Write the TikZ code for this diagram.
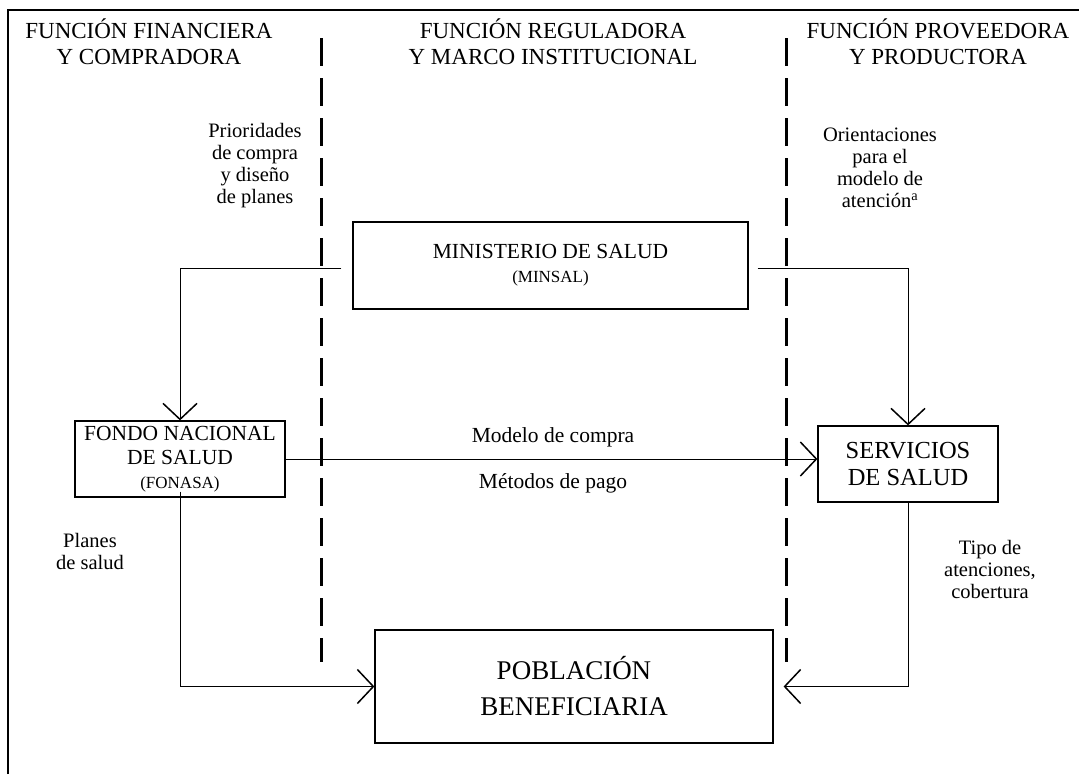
\documentclass[tikz,border=0pt]{standalone}
\usepackage{fontspec}
\setmainfont{Liberation Serif}
\usetikzlibrary{arrows.meta,calc}
\begin{document}
\begin{tikzpicture}[x=1pt,y=-1pt,
  hdr/.style={align=center,font=\fontsize{23}{26}\selectfont,inner sep=0pt},
  lbl/.style={align=center,font=\fontsize{20.5}{22}\selectfont,inner sep=0pt},
  box/.style={draw,line width=1.2pt,align=center,inner sep=0pt,font=\fontsize{21.5}{24}\selectfont},
  conn/.style={line width=1pt},
  tip/.style={-{Straight Barb[length=16pt,width=34pt,line width=1.5pt]}},
  sep/.style={line width=3pt,dash pattern=on 28pt off 12pt},
  small/.style={font=\fontsize{17}{20}\selectfont}]
\useasboundingbox (0,0) rectangle (1079,774);
% frame
\draw[line width=1.3pt] (8,774) -- (8,10) -- (1079,10);
% separators
\draw[sep] (321,38) -- (321,662);
\draw[sep] (786,38) -- (786,662);
% headers
\node[hdr] (h1) at (149,42) {FUNCIÓN FINANCIERA\\Y COMPRADORA};
\node[hdr] (h2) at (553,42) {FUNCIÓN REGULADORA\\Y MARCO INSTITUCIONAL};
\node[hdr] (h3) at (938,42) {FUNCIÓN PROVEEDORA\\Y PRODUCTORA};
% boxes
\node[box,minimum width=395pt,minimum height=87pt] (minsal) at (550.5,265.5)
  {MINISTERIO DE SALUD\\{\fontsize{17}{20}\selectfont (MINSAL)}};
\node[box,minimum width=210pt,minimum height=76pt] (fonasa) at (180,459)
  {FONDO NACIONAL\\DE SALUD\\{\fontsize{17}{20}\selectfont (FONASA)}};
\node[box,minimum width=180pt,minimum height=76pt,font=\fontsize{24.5}{27}\selectfont] (serv) at (908,464)
  {SERVICIOS\\DE SALUD};
\node[box,minimum width=398pt,minimum height=113pt,font=\fontsize{27}{36}\selectfont] (pob) at (574,686.5)
  {POBLACIÓN\\BENEFICIARIA};
% labels
\node[lbl] (l1) at (255,166) {Prioridades\\de compra\\y diseño\\de planes};
\node[lbl] (l2) at (880,168) {Orientaciones\\para el\\modelo de\\atención\textsuperscript{a}};
\node[lbl,font=\fontsize{21.5}{22}\selectfont] (l3) at (553,437) {Modelo de compra};
\node[lbl,font=\fontsize{21.5}{22}\selectfont] (l4) at (553,483) {Métodos de pago};
\node[lbl] (l5) at (90,551) {Planes\\de salud};
\node[lbl] (l6) at (990,569) {Tipo de\\atenciones,\\cobertura};
% connectors
\draw[conn,tip] ([xshift=-11pt,yshift=-3pt]minsal.west) -| (fonasa.north);
\draw[conn,tip] ([xshift=9pt,yshift=-3pt]minsal.east) -| (serv.north);
\draw[conn,tip] (fonasa.east) -- (fonasa.east -| serv.west);
\draw[conn,tip] ([yshift=6pt]fonasa.south) |- (pob.west);
\draw[conn,tip] (serv.south) |- ([xshift=10pt]pob.east);
\end{tikzpicture}
\end{document}
